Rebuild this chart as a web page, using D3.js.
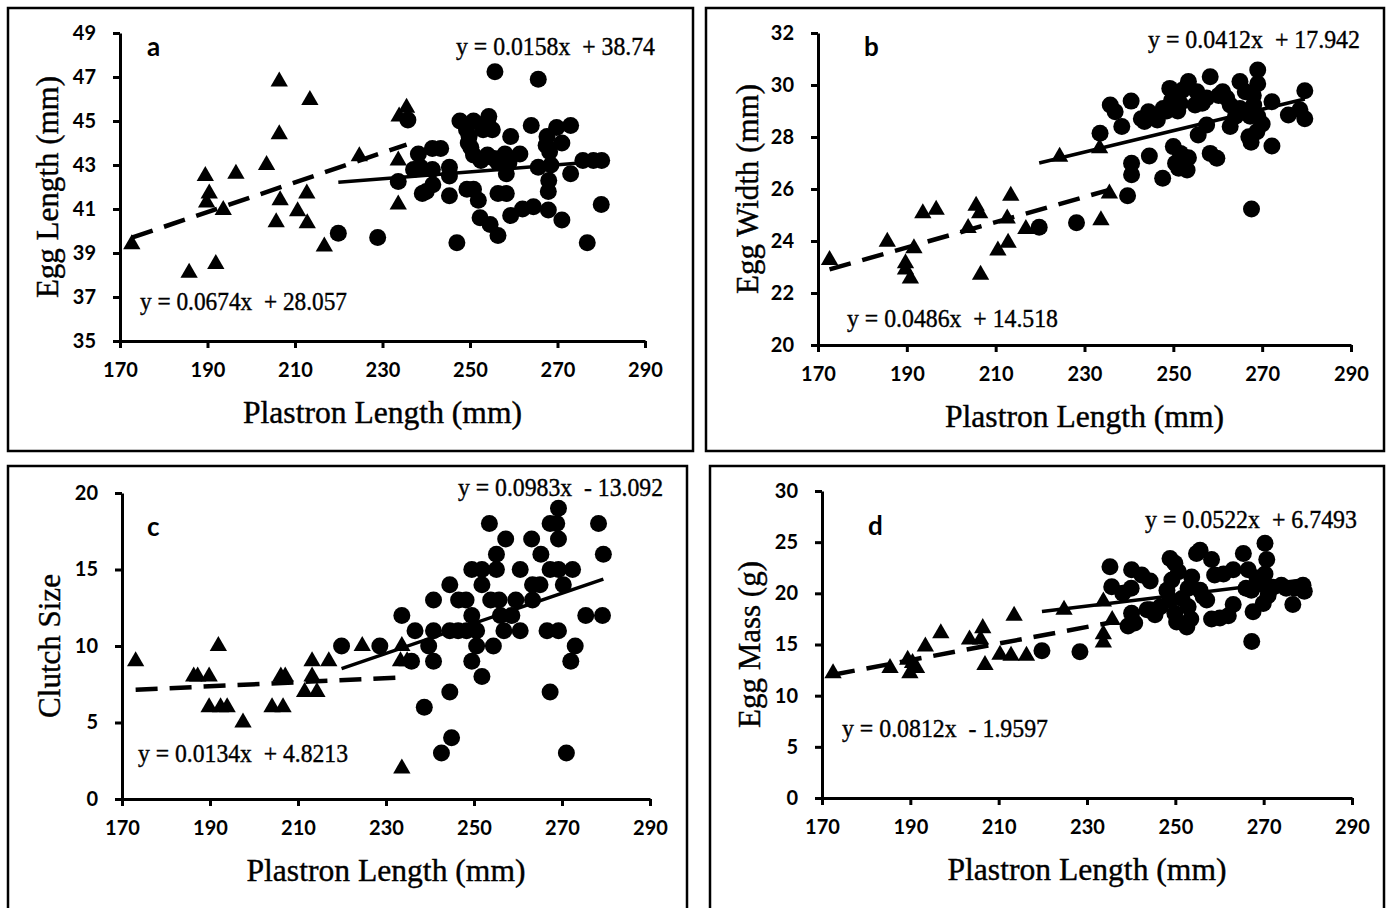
<!DOCTYPE html>
<html>
<head>
<meta charset="utf-8">
<script src="https://cdn.jsdelivr.net/npm/d3@7"></script>
<style>
  body { margin: 0; background: #fff; }
  svg text { white-space: pre; }
</style>
</head>
<body>
<svg id="chart" width="1388" height="908"></svg>
<script>
// plastron length ticks shared by all panels
const xTicks = [170, 190, 210, 230, 250, 270, 290];

// a: egg length
const lengthTicks = [35, 37, 39, 41, 43, 45, 47, 49];
const lengthTri = [[172.7,39.4],[185.8,38.1],[191.9,38.5],[189.5,42.5],[190.4,41.7],[189.8,41.3],[193.6,40.95],
  [196.5,42.6],[203.5,43.0],[206.4,46.8],[206.4,44.4],[206.6,41.4],[205.7,40.4],[213.4,45.95],[212.7,41.7],
  [210.6,40.9],[212.8,40.35],[216.7,39.3],[224.7,43.4],[233.6,43.2],[233.6,41.2],[233.8,45.2],[235.5,45.6]];
const lengthCirc = [[219.9,39.9],[228.9,39.7],[233.6,42.25],[235.8,45.05],[237.1,42.8],[238.2,43.5],[239.1,41.7],
  [238.7,42.9],[240.0,41.8],[241.4,42.8],[241.4,43.75],[241.5,42.1],[243.3,43.75],[245.3,42.9],[245.3,42.5],
  [245.3,41.6],[247.0,39.47],[247.7,45.0],[249.2,44.6],[249.3,41.9],[249.6,44.0],[249.8,44.3],[250.2,43.8],
  [250.8,45.0],[250.8,43.45],[250.8,41.9],[251.9,41.4],[252.3,40.6],[252.5,43.2],[253.0,44.6],[254.0,45.0],
  [254.3,45.2],[254.0,43.45],[254.6,40.3],[255.1,44.6],[255.5,43.3],[255.7,47.24],[256.4,43.1],[256.4,41.7],
  [256.4,39.8],[258.0,43.5],[258.3,42.6],[258.3,41.7],[258.9,43.1],[259.3,44.3],[259.3,40.7],[261.4,43.5],
  [262.0,41.0],[264.0,44.8],[264.5,41.1],[265.6,42.9],[265.6,46.9],[267.4,43.9],[267.6,44.3],[267.9,41.8],
  [267.9,40.95],[268.0,42.3],[268.2,43.6],[268.5,43.0],[269.8,44.7],[271.0,44.0],[271.0,40.5],[273.0,44.8],
  [273.0,42.6],[275.8,43.2],[276.8,39.47],[278.2,43.2],[280.0,41.2],[280.1,43.2]];

// b: egg width
const widthTicks = [20, 22, 24, 26, 28, 30, 32];
const widthTri = [[172.6,23.27],[185.6,23.97],[189.7,23.14],[189.7,22.9],[190.8,22.56],[191.6,23.72],[193.6,25.07],
  [196.6,25.2],[203.8,24.5],[205.6,25.36],[206.4,25.07],[206.6,22.7],[213.4,25.74],[212.6,24.87],[212.8,23.93],
  [210.5,23.63],[216.8,24.46],[224.4,27.24],[233.7,24.8],[235.6,25.83],[233.4,27.57]];
const widthCirc = [[219.8,24.53],[228.2,24.7],[233.5,28.14],[235.8,29.23],[236.9,28.97],[238.4,28.4],[239.7,25.74],
  [240.5,29.38],[240.6,26.99],[240.6,26.55],[242.8,28.7],[243.5,28.6],[244.4,28.97],[244.6,27.27],[246.0,28.8],
  [246.4,28.65],[247.6,26.41],[247.7,29.1],[248.5,29.0],[249.2,29.87],[249.6,29.4],[250.0,27.63],[250.5,26.99],
  [250.5,29.6],[251.0,29.0],[251.2,26.8],[251.5,29.3],[251.6,27.37],[252.0,29.8],[253.1,26.73],[253.4,30.13],
  [253.4,27.2],[254.9,29.23],[255.3,29.74],[255.6,28.08],[256.5,29.3],[257.5,28.46],[257.5,29.5],[258.3,30.32],
  [258.3,27.37],[259.8,27.18],[260.2,29.6],[261.1,29.74],[262.0,29.5],[262.8,29.23],[262.8,28.4],[264.0,28.8],
  [265.0,30.13],[265.0,29.1],[266.2,29.74],[267.0,28.01],[267.3,28.8],[267.5,27.8],[267.6,25.23],[268.0,29.6],
  [268.1,29.23],[268.8,28.2],[269.0,30.58],[269.0,30.05],[269.0,28.8],[270.0,28.5],[272.2,29.36],[272.2,27.65],
  [275.9,28.85],[278.5,29.05],[279.6,29.78],[279.6,28.7]];

// c: clutch size
const clutchTicks = [0, 5, 10, 15, 20];
const clutchTri = [[173.1,9],[186.3,8],[187.2,8],[189.8,8],[191.9,10],[189.8,6],[192.4,6],[193.9,6],[197.5,5],
  [204.1,6],[206.6,6],[206.1,8],[207.1,8],[211.5,7],[214.3,7],[213.2,9],[213.2,8],[217.0,9],[224.6,10],
  [233.6,10],[233.3,9],[234.8,9],[233.6,2]];
const clutchCirc = [[219.9,10],[228.6,10],[233.6,12],[235.8,9],[236.6,11],[238.7,6],[239.7,10],[240.8,13],
  [240.8,11],[240.8,9],[242.6,3],[244.5,14],[244.5,11],[244.5,7],[244.9,4],[246.5,13],[246.4,11],[248.2,13],
  [248.3,11],[249.5,15],[249.5,12],[249.5,9],[250.6,11],[250.6,10],[251.8,15],[251.8,14],[251.8,8],[253.5,18],
  [253.8,13],[254.4,10],[255.1,16],[255.1,15],[255.7,13],[256.0,12],[256.8,11],[257.2,17],[258.6,12],[259.5,13],
  [260.5,15],[260.5,11],[263.1,17],[263.3,14],[263.3,13],[265.0,14],[265.2,16],[266.6,11],[267.3,18],[267.3,15],
  [267.3,7],[268.8,18],[269.2,19],[269.2,17],[269.2,15],[269.2,11],[270.3,14],[271.0,3],[272.0,9],[272.4,15],
  [273.0,10],[275.4,12],[278.3,18],[279.2,12],[279.4,16]];

// d: egg mass
const massTicks = [0, 5, 10, 15, 20, 25, 30];
const massTri = [[172.5,12.2],[185.4,12.7],[189.4,13.5],[189.9,12.2],[190.5,13.2],[191.4,12.7],[193.4,14.8],
  [196.9,16.1],[203.4,15.5],[206.4,16.6],[205.9,15.5],[206.9,13.0],[210.3,14.0],[212.8,13.9],[213.5,17.8],
  [216.3,13.9],[224.8,18.4],[233.7,19.2],[235.7,17.4],[233.7,16.0],[233.7,15.2]];
const massCirc = [[219.8,14.4],[228.4,14.3],[235.2,22.6],[235.6,20.65],[238.1,20.0],[239.3,16.8],[240.1,22.3],
  [240.0,20.5],[240.1,18.05],[240.8,17.1],[242.4,21.8],[243.6,18.4],[244.3,21.2],[244.3,18.4],[245.4,17.9],
  [246.6,18.7],[248.1,20.3],[248.8,23.4],[248.8,19.35],[249.2,21.3],[249.9,22.95],[249.9,18.05],[250.3,17.2],
  [250.7,22.1],[251.5,19.5],[252.6,16.7],[252.9,18.7],[252.9,20.5],[253.5,17.5],[253.7,21.6],[254.8,23.9],
  [255.6,24.2],[255.6,20.3],[256.3,19.7],[257.1,19.35],[258.2,23.3],[258.2,17.5],[258.9,21.8],[260.1,17.6],
  [260.9,21.9],[262.0,17.8],[263.1,22.3],[263.1,18.9],[265.4,23.9],[266.0,20.5],[266.5,22.3],[267.2,20.3],
  [267.3,15.3],[267.6,18.2],[268.5,21.5],[269.2,20.9],[269.9,19.0],[270.3,24.9],[270.3,21.9],[270.7,23.3],
  [271.0,19.8],[272.1,20.6],[274.0,20.8],[275.1,20.5],[276.6,18.9],[277.0,20.5],[278.9,20.8],[279.2,20.2]];

// regression lines [slope, intercept]: solid = circles, dashed = triangles
const solidFits = [[0.0158, 38.74], [0.0412, 17.942], [0.0983, -13.092], [0.0522, 6.7493]];
const dashedFits = [[0.0674, 28.057], [0.0486, 14.518], [0.0134, 4.8213], [0.0812, -1.9597]];
const solidEq = ["y = 0.0158x  + 38.74", "y = 0.0412x  + 17.942", "y = 0.0983x  - 13.092", "y = 0.0522x  + 6.7493"];
const dashedEq = ["y = 0.0674x  + 28.057", "y = 0.0486x  + 14.518", "y = 0.0134x  + 4.8213", "y = 0.0812x  - 1.9597"];
const yTitles = ["Egg Length (mm)", "Egg Width (mm)", "Clutch Size", "Egg Mass (g)"];
const letters = ["a", "b", "c", "d"];
const xTitle = "Plastron Length (mm)";

// layout of the four panels (pixels); top/bot = [x, baseline, width]
const layout = [
  { frame: [8, 8, 685, 443], xr: [120, 645], yr: [341, 33], letter: [147, 56], top: [655, 55, 199], bot: [140, 310, 207], yt: 58 },
  { frame: [706, 8, 678, 443], xr: [818, 1351], yr: [345, 33], letter: [864, 56], top: [1360, 48, 212], bot: [847, 327, 211], yt: 758 },
  { frame: [8, 466, 679, 460], xr: [122, 650], yr: [799, 493], letter: [147, 536], top: [663, 496, 205], bot: [138, 762, 210], yt: 60 },
  { frame: [710, 466, 674, 460], xr: [822, 1352], yr: [798, 491], letter: [868, 535], top: [1357, 528, 212], bot: [842, 737, 206], yt: 760 }
];

const panels = [
  { yTicks: lengthTicks, tri: lengthTri, circ: lengthCirc },
  { yTicks: widthTicks, tri: widthTri, circ: widthCirc },
  { yTicks: clutchTicks, tri: clutchTri, circ: clutchCirc },
  { yTicks: massTicks, tri: massTri, circ: massCirc }
];

const svg = d3.select("#chart");
const serif = "'Liberation Serif', 'Times New Roman', serif";
const sans = "Lato, 'Open Sans', sans-serif";

panels.forEach((p, i) => {
  const L = layout[i];
  const g = svg.append("g");

  g.append("rect")
    .attr("x", L.frame[0]).attr("y", L.frame[1])
    .attr("width", L.frame[2]).attr("height", L.frame[3])
    .attr("fill", "none").attr("stroke", "#000").attr("stroke-width", 2.5);

  const x = d3.scaleLinear().domain([170, 290]).range(L.xr);
  const y = d3.scaleLinear().domain(d3.extent(p.yTicks)).range(L.yr);

  const xAxis = g.append("g")
    .attr("transform", `translate(0,${L.yr[0]})`)
    .call(d3.axisBottom(x).tickValues(xTicks).tickSize(7).tickSizeOuter(0).tickPadding(15));
  const yAxis = g.append("g")
    .attr("transform", `translate(${L.xr[0]},0)`)
    .call(d3.axisLeft(y).tickValues(p.yTicks).tickSize(7).tickSizeOuter(0).tickPadding(17));

  [xAxis, yAxis].forEach(a => {
    a.selectAll("path, line").attr("stroke", "#000").attr("stroke-width", 3);
    a.selectAll("text").attr("font-family", sans).attr("font-size", 20)
      .attr("font-weight", "bold").attr("fill", "#000");
  });

  // regression lines over each group's range
  const addFit = (fit, pts, dashed) => {
    const ext = d3.extent(pts, d => d[0]);
    g.append("path")
      .datum(ext)
      .attr("d", d3.line().x(v => x(v)).y(v => y(fit[0] * v + fit[1])))
      .attr("fill", "none").attr("stroke", "#000")
      .attr("stroke-width", dashed ? 4.5 : 3.5)
      .attr("stroke-dasharray", dashed ? "22,12" : null);
  };
  addFit(dashedFits[i], p.tri, true);
  addFit(solidFits[i], p.circ, false);

  g.selectAll(".circ").data(p.circ).enter().append("circle")
    .attr("class", "circ")
    .attr("cx", d => x(d[0])).attr("cy", d => y(d[1]))
    .attr("r", 8.5).attr("fill", "#000");

  g.selectAll(".tri").data(p.tri).enter().append("path")
    .attr("class", "tri")
    .attr("d", d3.symbol().type(d3.symbolTriangle).size(130))
    .attr("transform", d => `translate(${x(d[0])},${y(d[1])})`)
    .attr("fill", "#000");

  g.append("text")
    .attr("x", L.letter[0]).attr("y", L.letter[1])
    .attr("font-family", sans).attr("font-size", 26).attr("font-weight", "bold")
    .text(letters[i]);

  const eq = (pos, txt, anchor) => g.append("text")
    .attr("x", pos[0]).attr("y", pos[1])
    .attr("text-anchor", anchor)
    .attr("textLength", pos[2]).attr("lengthAdjust", "spacingAndGlyphs")
    .attr("font-family", serif).attr("font-size", 26)
    .attr("stroke", "#000").attr("stroke-width", 0.4)
    .text(txt);
  eq(L.top, solidEq[i], "end");
  eq(L.bot, dashedEq[i], "start");

  g.append("text")
    .attr("x", (L.xr[0] + L.xr[1]) / 2).attr("y", L.yr[0] + 82)
    .attr("text-anchor", "middle")
    .attr("textLength", 279).attr("lengthAdjust", "spacingAndGlyphs")
    .attr("font-family", serif).attr("font-size", 32)
    .attr("stroke", "#000").attr("stroke-width", 0.4)
    .text(xTitle);

  g.append("text")
    .attr("transform", `translate(${L.yt},${(L.yr[0] + L.yr[1]) / 2}) rotate(-90)`)
    .attr("text-anchor", "middle")
    .attr("font-family", serif).attr("font-size", 31)
    .attr("stroke", "#000").attr("stroke-width", 0.4)
    .text(yTitles[i]);
});
</script>
</body>
</html>
